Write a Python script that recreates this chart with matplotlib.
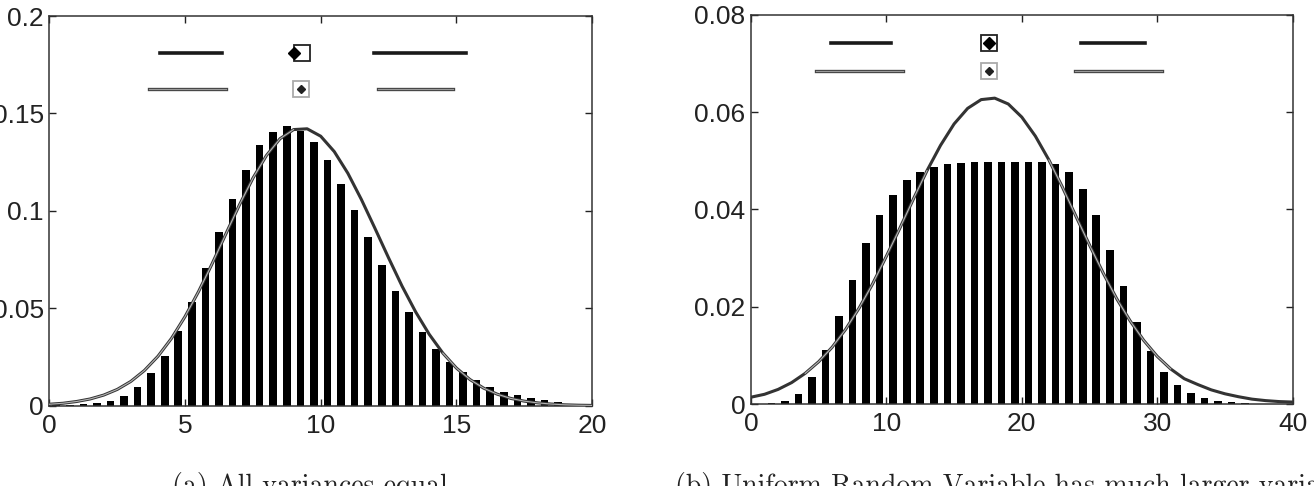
import numpy as np
import matplotlib
matplotlib.use('Agg')
import matplotlib.pyplot as plt

# ---- data ----
# (a) all variances equal: histogram bins of width 0.5
a_centers = np.arange(0.25, 20, 0.5)
a_heights = [0.0002, 0.0003, 0.0006, 0.0012, 0.0025, 0.0049, 0.0097, 0.0166,
             0.0255, 0.0383, 0.0533, 0.0705, 0.089, 0.106, 0.121, 0.134,
             0.1405, 0.1435, 0.141, 0.1355, 0.126, 0.114, 0.1003, 0.0866,
             0.072, 0.059, 0.048, 0.0377, 0.0292, 0.0224, 0.0173, 0.013,
             0.0095, 0.0068, 0.0052, 0.0038, 0.0028, 0.0018, 0.0009, 0.0004]
a_curve_x = np.arange(0, 20.5, 0.5)
a_curve_y = [0.0007, 0.0012, 0.0021, 0.0034, 0.0054, 0.0083, 0.0124, 0.018,
             0.0253, 0.0345, 0.0457, 0.0586, 0.0729, 0.088, 0.1029, 0.1167,
             0.1284, 0.137, 0.1417, 0.1421, 0.1383, 0.1304, 0.1193, 0.1058,
             0.091, 0.0759, 0.0613, 0.0481, 0.0366, 0.027, 0.0193, 0.0134,
             0.009, 0.0059, 0.0037, 0.0023, 0.0014, 0.0008, 0.0004, 0.0002,
             0.0001]

# (b) uniform RV with larger variance: bins of width 1
b_centers = np.arange(0.5, 40, 1.0)
b_heights = [0.0, 0.0002, 0.0006, 0.0021, 0.0056, 0.0111, 0.0181, 0.0256,
             0.0331, 0.0389, 0.043, 0.0461, 0.0478, 0.0487, 0.0493, 0.0495,
             0.0497, 0.0497, 0.0497, 0.0498, 0.0498, 0.0498, 0.0493, 0.0477,
             0.0442, 0.0389, 0.0317, 0.0242, 0.0169, 0.0108, 0.0066, 0.004,
             0.0022, 0.0012, 0.0007, 0.0004, 0.0002, 0.0001, 0.0, 0.0]
b_curve_x = np.arange(0, 41, 1.0)
b_curve_y = [0.0014, 0.002, 0.003, 0.0044, 0.0063, 0.0087, 0.0117, 0.0154,
             0.0198, 0.0248, 0.0304, 0.0362, 0.0422, 0.048, 0.0532, 0.0576,
             0.0608, 0.0626, 0.0629, 0.0617, 0.059, 0.0551, 0.0502, 0.0446,
             0.0386, 0.0327, 0.027, 0.0217, 0.0171, 0.0131, 0.0098, 0.0072,
             0.0052, 0.004, 0.0029, 0.0021, 0.0015, 0.001, 0.0007, 0.0005,
             0.0004]

a_yticks = [0, 0.05, 0.1, 0.15, 0.2]
a_ylabels = ['0', '0.05', '0.1', '0.15', '0.2']
b_yticks = [0, 0.02, 0.04, 0.06, 0.08]
b_ylabels = ['0', '0.02', '0.04', '0.06', '0.08']

captions = ['(a) All variances equal',
            '(b) Uniform Random Variable has much larger variance']

plt.rcParams['font.family'] = ['Liberation Sans', 'DejaVu Sans']

W, H = 1314, 486
fig = plt.figure(figsize=(W / 100, H / 100), dpi=100)
ax1 = fig.add_axes([49.4 / W, 1 - 405.6 / H, 542.6 / W, 389.6 / H])
ax2 = fig.add_axes([751 / W, 1 - 404 / H, 541.6 / W, 389 / H])

dark = '#333333'
light = '#b4b4b4'


def draw_curve(ax, x, y, grey_parts):
    x = np.asarray(x)
    y = np.asarray(y)
    ax.plot(x, y, color=dark, lw=2.2, zorder=3, solid_capstyle='round')
    for lo, hi in grey_parts:
        m = (x >= lo) & (x <= hi)
        ax.plot(x[m], y[m], color=light, lw=0.8, zorder=4)


def style(ax, xmax, ymax, yticks, ylabels, xticks):
    ax.set_xlim(0, xmax)
    ax.set_ylim(0, ymax)
    ax.set_xticks(xticks)
    ax.set_xticklabels([str(t) for t in xticks])
    ax.set_yticks(yticks)
    ax.set_yticklabels(ylabels)
    ax.tick_params(direction='in', length=5, width=1, top=True, right=True,
                   labelsize=19, colors='#222222')
    ax.tick_params(axis='x', pad=6)
    ax.tick_params(axis='y', pad=4)
    for s in ax.spines.values():
        s.set_color('#333333')
        s.set_linewidth(1.1)


def legend_rows(ax, rows):
    # rows: (y, left line span, marker x, right line span, row style)
    for y, (l0, l1), mx, (r0, r1), kind in rows:
        for (a, b) in [(l0, l1), (r0, r1)]:
            if kind == 'dark':
                ax.plot([a, b], [y, y], color='#1a1a1a', lw=2.6,
                        transform=ax.transAxes, clip_on=False)
            else:
                ax.plot([a, b], [y, y], color='#444444', lw=2.4,
                        transform=ax.transAxes, clip_on=False)
                ax.plot([a, b], [y, y], color='#9a9a9a', lw=0.8,
                        transform=ax.transAxes, clip_on=False)
        edge = '#222222' if kind == 'dark' else '#aaaaaa'
        ax.plot([mx], [y], marker='s', ms=11, mfc='white', mec=edge,
                mew=1.3, transform=ax.transAxes, clip_on=False)


# ---- panel (a) ----
ax1.bar(a_centers, a_heights, width=0.28, color='black', zorder=2)
draw_curve(ax1, a_curve_x, a_curve_y, [(0, 9.0), (14.5, 20)])
style(ax1, 20, 0.2, a_yticks, a_ylabels, [0, 5, 10, 15, 20])
legend_rows(ax1, [(0.904, (0.204, 0.319), 0.466, (0.599, 0.767), 'dark'),
                  (0.812, (0.184, 0.325), 0.463, (0.606, 0.744), 'grey')])
ax1.plot([0.451], [0.904], marker='D', ms=6, color='black',
         transform=ax1.transAxes, clip_on=False)
ax1.plot([0.463], [0.812], marker='D', ms=4.5, color='#222222',
         transform=ax1.transAxes, clip_on=False)

# ---- panel (b) ----
ax2.bar(b_centers, b_heights, width=0.56, color='black', zorder=2)
draw_curve(ax2, b_curve_x, b_curve_y, [(4, 13), (22, 31)])
style(ax2, 40, 0.08, b_yticks, b_ylabels, [0, 10, 20, 30, 40])
legend_rows(ax2, [(0.927, (0.147, 0.258), 0.44, (0.609, 0.727), 'dark'),
                  (0.857, (0.120, 0.280), 0.44, (0.599, 0.758), 'grey')])
ax2.plot([0.44], [0.927], marker='D', ms=6, color='black',
         transform=ax2.transAxes, clip_on=False)
ax2.plot([0.44], [0.857], marker='D', ms=4.5, color='#222222',
         transform=ax2.transAxes, clip_on=False)

# ---- captions (cut by the lower edge, as in the scan) ----
fig.text(172 / W, 1 - 472 / H, captions[0], family=['cmr10', 'DejaVu Serif'],
         fontsize=20, ha='left', va='top', color='#222222')
fig.text(675 / W, 1 - 472 / H, captions[1], family=['cmr10', 'DejaVu Serif'],
         fontsize=20, ha='left', va='top', color='#222222')

plt.savefig('out.png', dpi=100)
